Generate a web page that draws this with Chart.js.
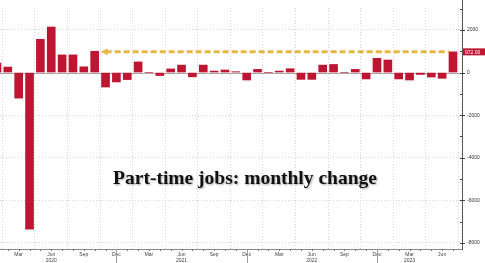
<!DOCTYPE html>
<html><head><meta charset="utf-8">
<script src="https://cdn.jsdelivr.net/npm/chart.js@4.4.0/dist/chart.umd.min.js"></script>
<style>html,body{margin:0;padding:0;background:#fff;}#wrap{width:485px;height:263px;position:relative;overflow:hidden}</style>
</head><body><div id="wrap"><canvas id="c" width="485" height="263"></canvas></div>
<script>
// Months: Jan 2020 .. Jul 2023 (index 0..42)
const months = [
 'Jan 2020','Feb 2020','Mar 2020','Apr 2020','May 2020','Jun 2020','Jul 2020','Aug 2020','Sep 2020','Oct 2020','Nov 2020','Dec 2020',
 'Jan 2021','Feb 2021','Mar 2021','Apr 2021','May 2021','Jun 2021','Jul 2021','Aug 2021','Sep 2021','Oct 2021','Nov 2021','Dec 2021',
 'Jan 2022','Feb 2022','Mar 2022','Apr 2022','May 2022','Jun 2022','Jul 2022','Aug 2022','Sep 2022','Oct 2022','Nov 2022','Dec 2022',
 'Jan 2023','Feb 2023','Mar 2023','Apr 2023','May 2023','Jun 2023','Jul 2023'];
// Part-time jobs, monthly change (thousands)
const partTimeChange = [
 450, 260, -1200, -7350, 1560, 2140, 830, 830, 270, 1000, -680, -440,
 -330, 500, 0, -140, 170, 350, -200, 350, 70, 120, 40, -350,
 150, 0, 70, 180, -320, -320, 350, 380, 0, 150, -300, 670,
 590, -300, -350, -90, -210, -270, 972];
const xTickIndex = [2,5,8,11,14,17,20,23,26,29,32,35,38,41];
const xTickLabels = [['Mar'],['Jun','2020'],['Sep'],['Dec'],['Mar'],['Jun','2021'],['Sep'],['Dec'],['Mar'],['Jun','2022'],['Sep'],['Dec'],['Mar','2023'],['Jun']];
const yTickValues = [2000,0,-2000,-4000,-6000,-8000];
const lastValueLabel = '972.00';
const arrowFromIndex = 9; // Oct 2020: last time the change was this large
const chartTitle = 'Part-time jobs: monthly change';

const BAR = '#BE1632';
const GOLD = '#E6B646';

const overlay = {
  id: 'overlay',
  beforeDatasetsDraw(chart) {
    const {ctx, chartArea: a, scales: {y}} = chart;
    const y0 = y.getPixelForValue(0);
    ctx.save();
    ctx.strokeStyle = '#a8a8a8'; ctx.lineWidth = 1;
    ctx.beginPath(); ctx.moveTo(a.left, Math.round(y0)+0.5); ctx.lineTo(a.right, Math.round(y0)+0.5); ctx.stroke();
    ctx.restore();
  },
  afterDraw(chart) {
    const {ctx, chartArea: a, scales: {x, y}} = chart;
    const n = partTimeChange.length;
    const half = 4;
    ctx.save();
    // axis lines
    ctx.lineWidth = 1;
    ctx.strokeStyle = '#8a8a8a';
    ctx.beginPath(); ctx.moveTo(a.left, Math.round(a.bottom) + 0.5); ctx.lineTo(a.right, Math.round(a.bottom) + 0.5); ctx.stroke();
    ctx.strokeStyle = '#555';
    ctx.beginPath(); ctx.moveTo(Math.round(a.right) + 0.5, 0); ctx.lineTo(Math.round(a.right) + 0.5, Math.round(a.bottom) + 1); ctx.stroke();
    // x minor ticks and year separators
    for (let i = 0; i < n; i++) {
      const px = Math.round(x.getPixelForValue(i)) + 0.5;
      if (px < a.left || px > a.right) continue;
      ctx.beginPath(); ctx.moveTo(px, a.bottom);
      ctx.lineTo(px, (i % 12 === 11) ? chart.height : a.bottom + 2);
      ctx.strokeStyle = (i % 12 === 11) ? '#999' : '#777';
      ctx.stroke();
    }
    // y ticks
    ctx.strokeStyle = '#444';
    for (let v = -8000; v <= 3000; v += 1000) {
      const py = Math.round(y.getPixelForValue(v)) + 0.5;
      if (py < a.top || py > a.bottom) continue;
      ctx.beginPath();
      if (v % 2000 === 0) { ctx.moveTo(a.right - 2, py); ctx.lineTo(a.right + 3, py); }
      else { ctx.moveTo(a.right - 2, py); ctx.lineTo(a.right, py); }
      ctx.stroke();
    }
    // arrow from last bar back to Oct 2020
    const last = partTimeChange[n - 1];
    const ya = y.getPixelForValue(last);
    const xs = x.getPixelForValue(arrowFromIndex) + half + 2;
    const xe = x.getPixelForValue(n - 1) - half;
    ctx.strokeStyle = GOLD; ctx.lineWidth = 3; ctx.setLineDash([6, 3]);
    ctx.beginPath(); ctx.moveTo(xs + 5, ya); ctx.lineTo(xe, ya); ctx.stroke();
    ctx.setLineDash([]);
    ctx.fillStyle = GOLD;
    ctx.beginPath(); ctx.moveTo(xs, ya); ctx.lineTo(xs + 7, ya - 3.5); ctx.lineTo(xs + 7, ya + 3.5); ctx.closePath(); ctx.fill();
    // last value label box
    ctx.fillStyle = BAR;
    ctx.fillRect(a.right + 1, ya - 3.5, chart.width - a.right - 1, 7);
    ctx.fillStyle = '#fff'; ctx.font = '5px "Liberation Sans", Arial, sans-serif';
    ctx.textAlign = 'left'; ctx.textBaseline = 'middle';
    ctx.fillText(lastValueLabel, a.right + 3, ya + 0.5);
    // title
    ctx.font = 'bold 19.5px "Liberation Serif", "Times New Roman", serif';
    ctx.textAlign = 'center'; ctx.textBaseline = 'alphabetic';
    ctx.shadowColor = 'rgba(0,0,0,0.35)'; ctx.shadowBlur = 2; ctx.shadowOffsetX = 1; ctx.shadowOffsetY = 1;
    ctx.fillStyle = '#111';
    ctx.fillText(chartTitle, 245, 184);
    ctx.restore();
  }
};

new Chart(document.getElementById('c'), {
  type: 'bar',
  data: {
    labels: months,
    datasets: [{
      data: partTimeChange.map((v, i) => ({x: i, y: v})),
      backgroundColor: BAR,
      borderWidth: 0,
      barThickness: 8
    }]
  },
  options: {
    responsive: false,
    devicePixelRatio: 1,
    animation: false,
    layout: {padding: 0},
    plugins: {legend: {display: false}, tooltip: {enabled: false}, title: {display: false}},
    scales: {
      x: {
        type: 'linear', min: 0.28, max: 42.83, offset: false,
        afterBuildTicks: s => { s.ticks = xTickIndex.map(v => ({value: v})); },
        afterFit: s => { s.height = 14; },
        grid: {color: '#d6d6d6', drawTicks: false},
        border: {display: false, dash: [1, 2]},
        ticks: {
          autoSkip: false, maxRotation: 0, padding: 2, color: '#444',
          font: {size: 5, family: '"Liberation Sans", Arial, sans-serif', lineHeight: 1.3},
          callback: (v) => { const k = xTickIndex.indexOf(v); return k >= 0 ? xTickLabels[k] : ''; }
        }
      },
      y: {
        position: 'right', min: -8286, max: 3032,
        afterBuildTicks: s => { s.ticks = yTickValues.map(v => ({value: v})); },
        afterFit: s => { s.width = 23; },
        grid: {color: c => (c.tick && c.tick.value === 0) ? 'rgba(0,0,0,0)' : '#d6d6d6', drawTicks: false},
        border: {display: false, dash: [1, 2]},
        ticks: {
          padding: 5, color: '#333',
          font: {size: 5, family: '"Liberation Sans", Arial, sans-serif'},
          callback: v => String(v)
        }
      }
    }
  },
  plugins: [overlay]
});
</script>
</body></html>
